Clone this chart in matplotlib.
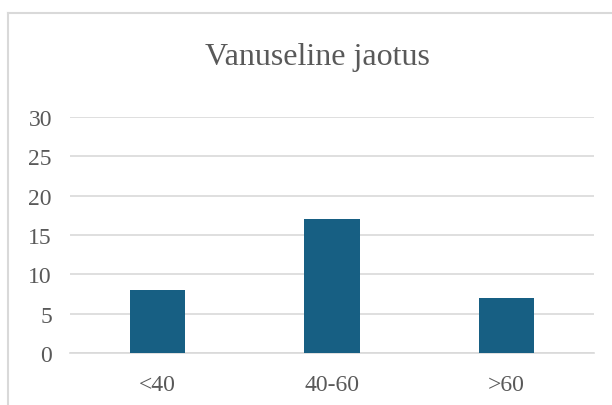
import matplotlib.pyplot as plt
import numpy as np

categories = ['<40', '40-60', '>60']
counts = [8, 17, 7]
yticks = [0, 5, 10, 15, 20, 25, 30]

plt.rcParams['font.family'] = ['Liberation Serif', 'DejaVu Serif']

fig = plt.figure(figsize=(6.12, 4.06), dpi=100)
ax = fig.add_axes([70 / 612, 1 - 354 / 406, 524 / 612, 236 / 406])

x = np.arange(len(categories))
ax.bar(x, counts, width=0.315, color='#175F83', zorder=3)

ax.set_xlim(-0.5, len(categories) - 0.5)
ax.set_ylim(0, 30)
ax.set_yticks(yticks)
ax.set_xticks(x)
ax.set_xticklabels(categories)
ax.grid(axis='y', color='#d9d9d9', linewidth=1.2, zorder=0)
for s in ['top', 'right', 'left']:
    ax.spines[s].set_visible(False)
ax.spines['bottom'].set_color('#d9d9d9')
ax.spines['bottom'].set_linewidth(1.2)
ax.tick_params(length=0, labelsize=17, colors='#595959')
ax.tick_params(axis='y', pad=13)
ax.tick_params(axis='x', pad=15)

fig.text(0.518, 1 - 57 / 406, 'Vanuseline jaotus', ha='center', va='center',
         fontsize=23, color='#595959')

# chart border (cut off at right and bottom)
bx = 8 / 612
by = 1 - 14 / 406
fig.add_artist(plt.Line2D([bx, bx], [0, by], color='#d9d9d9', linewidth=1.5))
fig.add_artist(plt.Line2D([bx, 1], [by, by], color='#d9d9d9', linewidth=1.5))

fig.savefig('out.png', dpi=100)
